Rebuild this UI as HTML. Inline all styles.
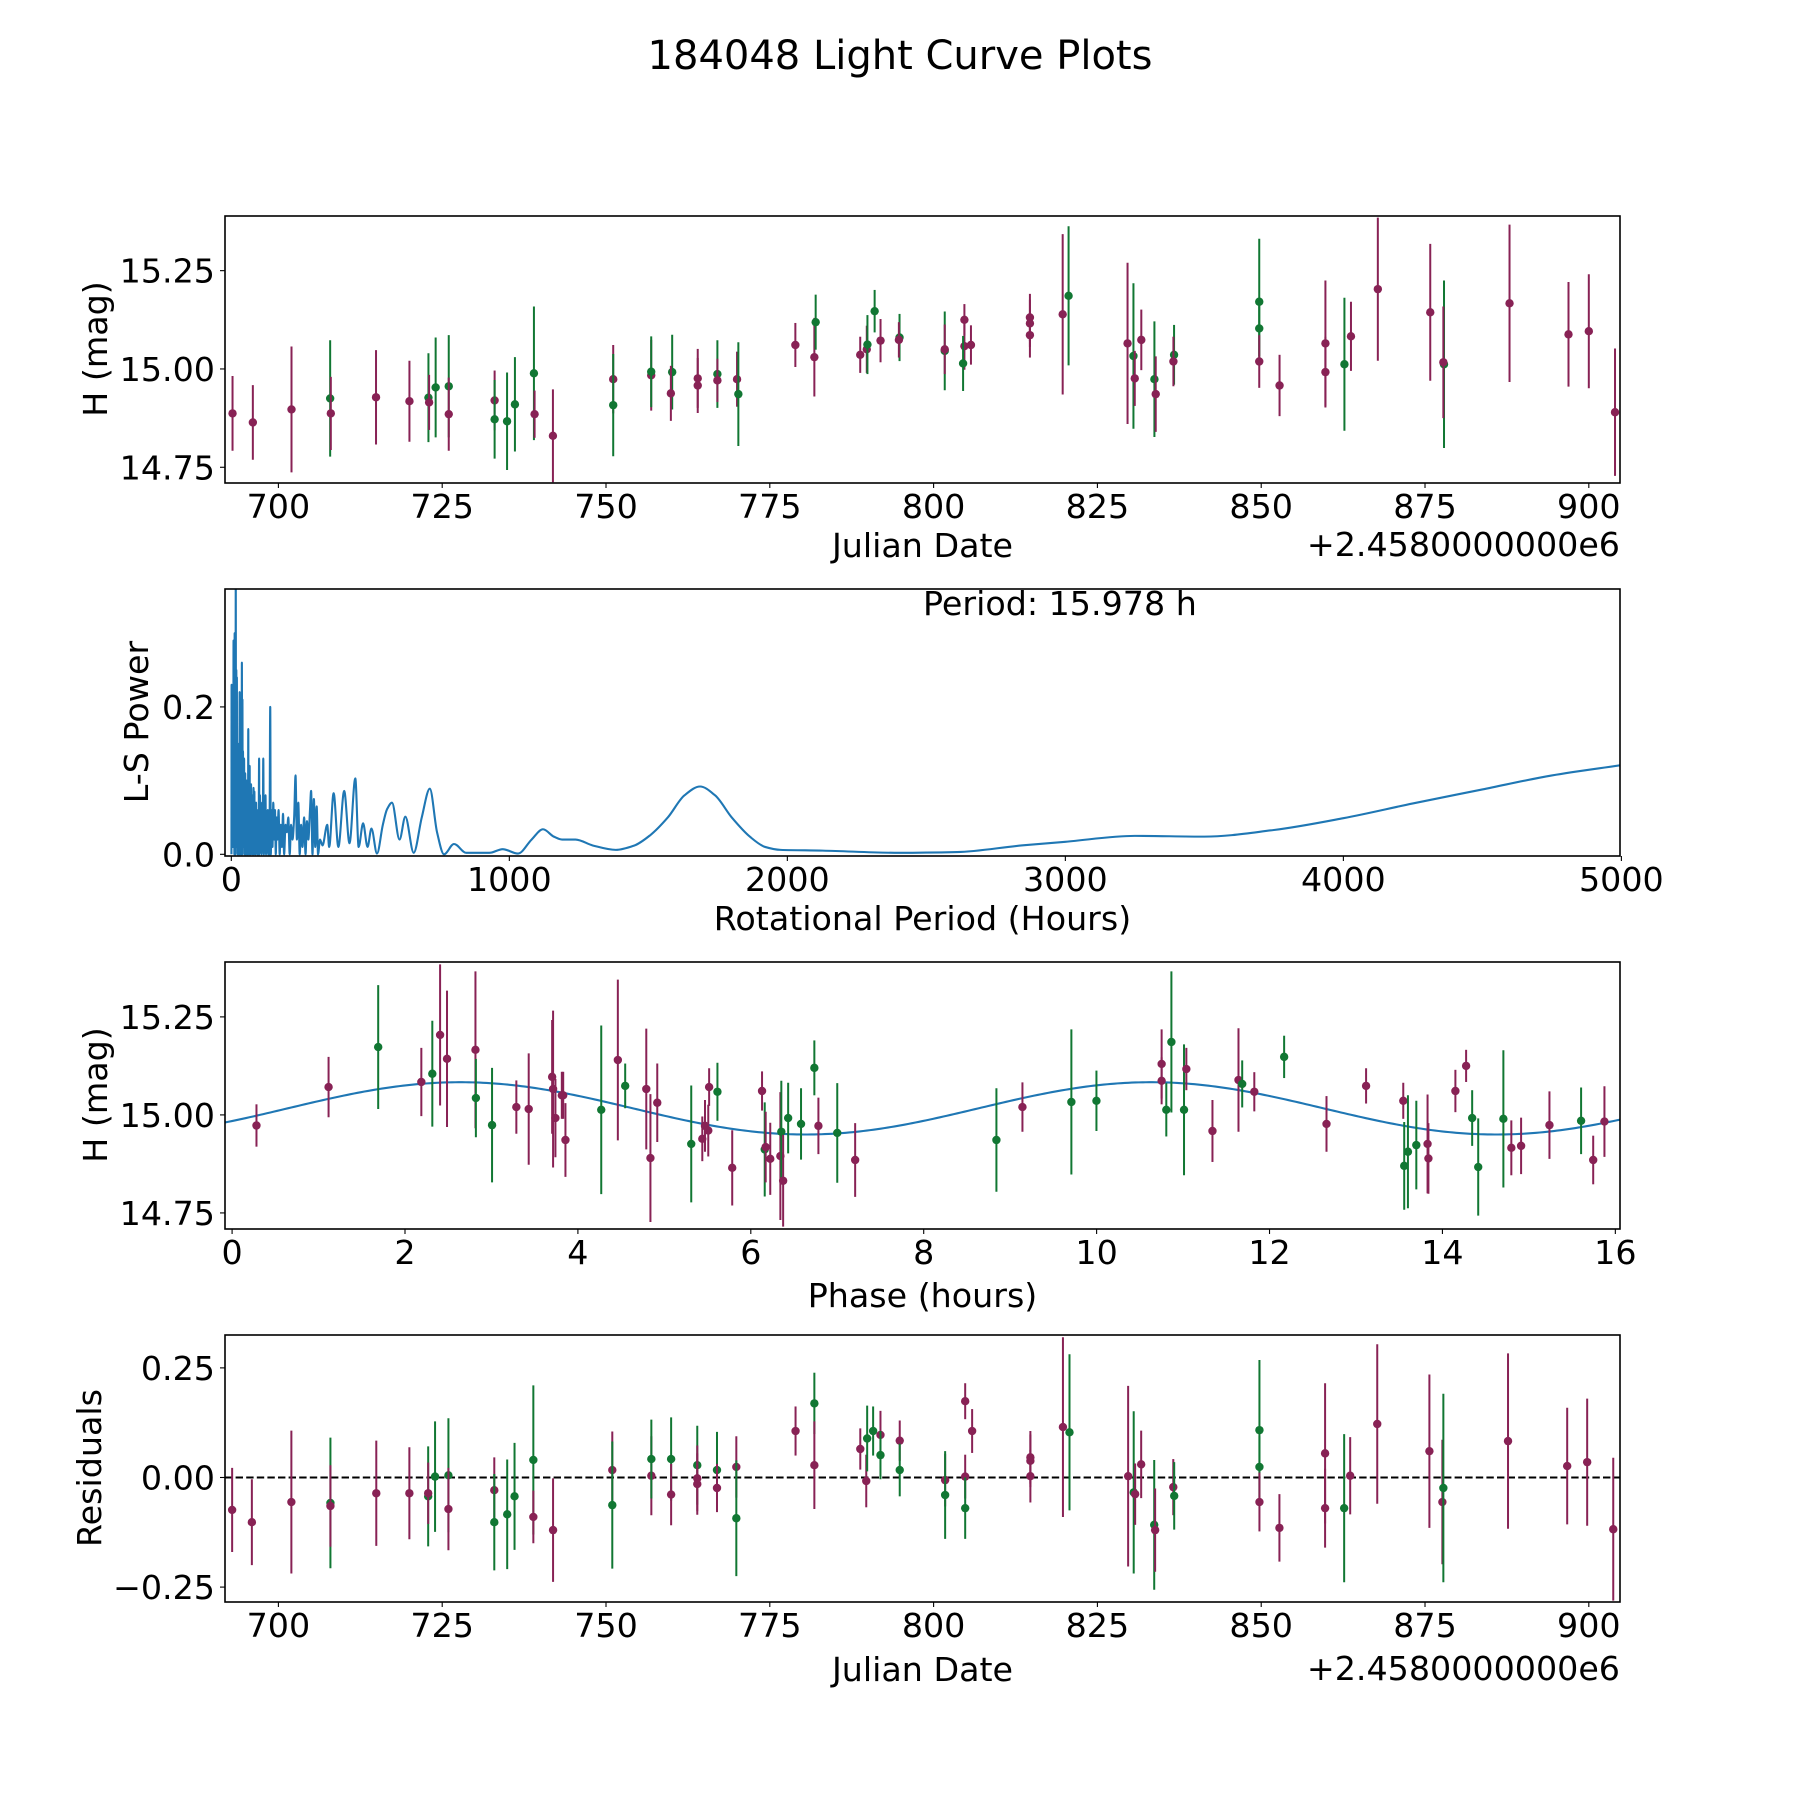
<!DOCTYPE html>
<html><head><meta charset="utf-8"><title>184048 Light Curve Plots</title>
<style>
html,body{margin:0;padding:0;background:#fff;}
svg{display:block;font-family:"DejaVu Sans","Liberation Sans",sans-serif;}
</style></head>
<body>
<svg id="fig" width="1800" height="1800" viewBox="0 0 1800 1800" xmlns="http://www.w3.org/2000/svg">
<rect x="0" y="0" width="1800" height="1800" fill="#fff"/>
<text x="900" y="69" font-size="40" text-anchor="middle" fill="#000">184048 Light Curve Plots</text>
</svg>
<script>
// ---------- data: top panel (H vs Julian Date) ----------
const topJd=[693.0,696.1,702.0,707.9,708.0,714.9,720.0,722.9,723.0,724.0,726.0,726.0,733.0,733.0,734.9,736.1,739.0,739.1,741.9,751.1,751.1,756.9,756.9,760.1,759.9,764.0,764.0,767.0,767.0,770.0,770.2,778.9,781.8,782.0,788.8,789.8,789.9,791.0,791.9,794.8,794.7,801.7,801.7,804.7,804.7,804.5,805.7,814.7,814.7,814.7,819.7,820.6,829.6,830.5,830.7,831.7,833.7,833.9,836.7,836.6,849.7,849.7,849.7,852.8,859.8,859.8,862.7,863.7,867.8,875.8,877.9,877.8,887.9,896.9,900.0,904.0];
const topMag=[14.887,14.864,14.897,14.925,14.887,14.928,14.918,14.927,14.915,14.953,14.956,14.885,14.92,14.872,14.867,14.91,14.989,14.885,14.83,14.974,14.908,14.984,14.993,14.992,14.938,14.976,14.958,14.987,14.971,14.974,14.936,15.061,15.03,15.119,15.036,15.05,15.062,15.147,15.072,15.08,15.074,15.046,15.05,15.125,15.058,15.014,15.061,15.131,15.116,15.086,15.139,15.186,15.065,15.033,14.976,15.074,14.974,14.936,15.036,15.019,15.171,15.103,15.019,14.958,15.065,14.992,15.012,15.083,15.203,15.144,15.012,15.017,15.167,15.088,15.096,14.89];
const topErr=[0.095,0.095,0.16,0.148,0.093,0.12,0.103,0.113,0.07,0.127,0.13,0.093,0.076,0.1,0.124,0.12,0.17,0.06,0.118,0.087,0.13,0.09,0.09,0.095,0.07,0.075,0.07,0.086,0.055,0.07,0.132,0.056,0.1,0.07,0.046,0.06,0.075,0.054,0.055,0.06,0.045,0.1,0.063,0.04,0.06,0.07,0.05,0.06,0.06,0.057,0.204,0.177,0.205,0.185,0.07,0.077,0.147,0.096,0.076,0.063,0.16,0.07,0.067,0.078,0.16,0.09,0.169,0.088,0.182,0.174,0.213,0.142,0.2,0.133,0.145,0.162];
const topBand=['M','M','M','G','M','M','M','G','M','G',
 'G','M','M','G','G','G','G','M','M','M',
 'G','M','G','G','M','M','M','G','M','M',
 'G','M','M','G','M','M','G','G','M','G',
 'M','G','M','M','M','G','M','M','M','M',
 'M','G','M','G','M','M','G','M','G','M',
 'G','G','M','M','M','M','G','M','M','M',
 'G','M','M','M','M','M'];

// ---------- data: periodogram ----------
const lsPeriod=[0.5,1,1.5,2.5,3.2,4,5,6,7,8,9,10,11,12,13,14,15,16,17,18,19,20,21,22,23,24,25,26,27,28,29,30,31,32,33,34,35,36,37,38,39,40,41,42,43,44,45,46,47,48,49,50,51,52,53,55,56,57,58,59,60,61,62,63,64,66,67,68,69,71,72,74,75,77,78,80,81,83,84,86,87,89,90,92,94,96,98,100,101,103,105,107,109,111,113,115,117,119,121,123,125,127,129,131,133,135,137,140,142,145,148,151,154,157,160,163,166,170,174,178,182,186,190,195,200,205,210,215,220,226,231,236,241,246,251,256,262,267,272,277,283,287,292,297,302,307,312,319,328,345,352,368,385,406,425,446,458,474,490,504,524,545,560,578,605,626,656,685,714,740,765,801,845,928,976,1031,1080,1121,1160,1190,1238,1300,1383,1450,1507,1570,1630,1686,1740,1800,1865,1920,1976,2127,2403,2610,2842,3000,3250,3500,3750,4000,4250,4500,4750,5000];
const lsPower=[0.0,0.23,0.02,0.21,0.01,0.19,0.03,0.12,0.01,0.29,0.02,0.25,0.0,0.3,0.05,0.22,0.0,0.38,0.02,0.25,0.01,0.24,0.03,0.14,0.0,0.15,0.02,0.1,0.0,0.14,0.02,0.22,0.0,0.18,0.03,0.09,0.0,0.12,0.04,0.26,0.0,0.21,0.02,0.14,0.01,0.1,0.02,0.13,0.0,0.08,0.03,0.11,0.0,0.09,0.02,0.1,0.0,0.09,0.02,0.06,0.0,0.17,0.03,0.08,0.0,0.12,0.02,0.09,0.0,0.095,0.01,0.08,0.0,0.07,0.02,0.09,0.0,0.085,0.01,0.05,0.0,0.07,0.02,0.05,0.0,0.06,0.0,0.13,0.0,0.08,0.01,0.05,0.0,0.07,0.02,0.13,0.0,0.07,0.03,0.08,0.0,0.05,0.02,0.06,0.0,0.05,0.0,0.2,0.0,0.06,0.01,0.07,0.02,0.06,0.0,0.05,0.02,0.06,0.0,0.04,0.01,0.055,0.0,0.04,0.03,0.05,0.0,0.04,0.02,0.05,0.107,0.02,0.07,0.0,0.04,0.01,0.05,0.0,0.045,0.02,0.06,0.086,0.0,0.075,0.01,0.065,0.0,0.02,0.012,0.04,0.01,0.083,0.01,0.086,0.015,0.103,0.01,0.042,0.01,0.035,0.001,0.04,0.061,0.07,0.02,0.051,0.002,0.05,0.089,0.03,0.0,0.014,0.002,0.002,0.007,0.001,0.02,0.034,0.024,0.02,0.02,0.012,0.006,0.012,0.026,0.05,0.08,0.092,0.08,0.05,0.024,0.01,0.006,0.005,0.002,0.003,0.012,0.017,0.025,0.024,0.033,0.049,0.069,0.088,0.107,0.121];

// ---------- data: phase-folded panel ----------
const phHours=[0.282,1.116,1.69,2.189,2.316,2.406,2.486,2.815,2.82,3.007,3.288,3.431,3.702,3.713,3.74,3.814,3.83,3.856,4.27,4.462,4.547,4.791,4.839,4.918,5.311,5.439,5.47,5.508,5.518,5.614,5.785,6.13,6.161,6.172,6.225,6.342,6.353,6.374,6.432,6.581,6.735,6.782,7.0,7.207,8.841,9.142,9.708,9.998,10.752,10.752,10.806,10.865,11.011,11.038,11.34,11.641,11.684,11.824,12.169,12.659,13.117,13.547,13.558,13.601,13.698,13.828,13.838,14.15,14.274,14.344,14.414,14.705,14.797,14.91,15.238,15.604,15.744,15.874];
const phMag=[14.973,15.071,15.173,15.084,15.105,15.204,15.143,15.166,15.043,14.974,15.02,15.015,15.097,15.066,14.992,15.05,15.05,14.936,15.013,15.14,15.074,15.066,14.89,15.031,14.926,14.939,14.972,14.96,15.071,15.059,14.865,15.061,14.912,14.918,14.888,14.895,14.957,14.832,14.992,14.977,15.12,14.972,14.954,14.885,14.936,15.02,15.033,15.036,15.13,15.087,15.013,15.186,15.013,15.117,14.959,15.089,15.079,15.059,15.148,14.977,15.074,15.036,14.87,14.906,14.923,14.926,14.889,15.061,15.125,14.992,14.867,14.99,14.916,14.921,14.974,14.985,14.885,14.983];
const phErr=[0.054,0.077,0.158,0.087,0.135,0.18,0.174,0.2,0.1,0.146,0.068,0.142,0.145,0.2,0.1,0.06,0.06,0.094,0.215,0.205,0.057,0.154,0.163,0.1,0.149,0.057,0.066,0.066,0.048,0.074,0.096,0.05,0.12,0.09,0.092,0.163,0.13,0.117,0.09,0.091,0.07,0.072,0.127,0.094,0.132,0.063,0.185,0.077,0.088,0.06,0.068,0.18,0.167,0.054,0.079,0.132,0.06,0.05,0.054,0.071,0.045,0.046,0.112,0.144,0.113,0.126,0.09,0.054,0.041,0.071,0.124,0.175,0.07,0.072,0.086,0.085,0.062,0.09];
const phBand=['M','M','G','M','G','M','M','M','G','G',
 'M','M','M','M','M','M','M','M','G','M',
 'G','M','M','M','G','M','M','M','M','G',
 'M','M','G','M','M','M','G','M','G','G',
 'G','M','G','M','G','M','G','G','M','M',
 'G','G','G','M','M','M','G','M','G','M',
 'M','M','G','G','G','M','M','M','M','G',
 'G','G','M','M','M','G','M','M'];
// fitted model (double-peaked sinusoid)
const fitMean=15.0167, fitAmp=0.0667, fitPeak=2.64, fitHalfPeriod=7.989;

// ---------- data: residual panel ----------
const resJd=[692.94,695.95,701.98,707.94,707.94,714.94,719.99,722.86,722.86,723.91,725.95,725.95,732.95,732.95,734.92,736.04,738.91,738.91,741.92,750.96,750.96,756.92,756.92,759.94,759.94,763.93,763.93,763.93,766.94,766.94,769.89,769.89,778.93,781.8,781.8,788.81,789.72,789.86,790.77,791.89,791.89,794.83,794.83,801.76,801.76,804.82,804.82,804.82,805.88,814.77,814.77,814.77,819.74,820.74,829.69,830.54,830.76,831.68,833.67,833.81,836.58,836.72,849.73,849.73,849.73,852.78,859.75,859.75,862.66,863.58,867.71,875.67,877.65,877.8,887.67,896.7,899.75,903.73];
const resVal=[-0.074,-0.102,-0.056,-0.058,-0.065,-0.036,-0.036,-0.043,-0.036,0.002,0.005,-0.072,-0.029,-0.102,-0.084,-0.043,0.04,-0.09,-0.12,0.017,-0.063,0.004,0.042,0.042,-0.039,0.028,-0.002,-0.015,0.017,-0.024,0.024,-0.093,0.106,0.169,0.028,0.065,-0.008,0.089,0.106,0.097,0.051,0.084,0.017,-0.006,-0.04,0.174,0.002,-0.07,0.106,0.046,0.038,0.003,0.115,0.103,0.003,-0.034,-0.038,0.03,-0.108,-0.12,-0.022,-0.042,0.108,0.024,-0.056,-0.115,0.055,-0.07,-0.07,0.004,0.122,0.06,-0.056,-0.024,0.083,0.026,0.035,-0.118];
const resErr=[0.096,0.098,0.163,0.149,0.093,0.12,0.105,0.114,0.07,0.126,0.13,0.094,0.075,0.11,0.125,0.122,0.17,0.06,0.118,0.088,0.145,0.09,0.09,0.095,0.07,0.09,0.075,0.07,0.087,0.055,0.07,0.132,0.056,0.07,0.1,0.047,0.06,0.075,0.056,0.055,0.055,0.046,0.06,0.06,0.1,0.041,0.05,0.07,0.05,0.06,0.06,0.06,0.205,0.178,0.206,0.185,0.07,0.077,0.148,0.095,0.064,0.077,0.16,0.07,0.067,0.077,0.16,0.09,0.169,0.088,0.182,0.175,0.142,0.215,0.2,0.133,0.145,0.163];
const resBand=['M','M','M','G','M','M','M','G','M','G',
 'G','M','M','G','G','G','G','M','M','M',
 'G','M','G','G','M','G','M','M','G','M',
 'M','G','M','G','M','M','M','G','G','M',
 'G','M','G','M','G','M','M','G','M','M',
 'M','M','M','G','M','G','M','M','G','M',
 'M','G','G','G','M','M','M','M','G','M',
 'M','M','M','G','M','M','M','M'];

const xTopTicks=[700,725,750,775,800,825,850,875,900];
const yTopTicks=[14.75,15.00,15.25];
const xLsTicks=[0,1000,2000,3000,4000,5000];
const yLsTicks=[0.0,0.2];
const xPhTicks=[0,2,4,6,8,10,12,14,16];
const yResTicks=[-0.25,0.00,0.25];

// ---------- rendering ----------
const NS='http://www.w3.org/2000/svg';
const svg=document.getElementById('fig');
const COL={M:'#882255',G:'#117733'};
const FS=33.3;
function mk(tag,attrs,parent){const e=document.createElementNS(NS,tag);for(const k in attrs)e.setAttribute(k,attrs[k]);(parent||svg).appendChild(e);return e;}
function scale(d0,d1,p0,p1){return v=>p0+(v-d0)/(d1-d0)*(p1-p0);}
// monotone cubic (Fritsch-Carlson) path through pixel points
function smoothPath(px,py){
  const n=px.length,d=[],m=new Array(n);
  for(let i=0;i<n-1;i++)d.push((py[i+1]-py[i])/(px[i+1]-px[i]||1e-6));
  m[0]=d[0];m[n-1]=d[n-2];
  for(let i=1;i<n-1;i++){m[i]=(d[i-1]*d[i]>0)?2/(1/d[i-1]+1/d[i]):0;}
  let s='M'+px[0].toFixed(2)+','+py[0].toFixed(2);
  for(let i=0;i<n-1;i++){const h=px[i+1]-px[i];
    s+='C'+(px[i]+h/3).toFixed(2)+','+(py[i]+m[i]*h/3).toFixed(2)+' '+(px[i+1]-h/3).toFixed(2)+','+(py[i+1]-m[i+1]*h/3).toFixed(2)+' '+px[i+1].toFixed(2)+','+py[i+1].toFixed(2);}
  return s;
}

const L=225,R=1620;
function makeAxes(id,top,bottom,xd,yd,name){
  const cp=mk('clipPath',{id:'clip'+id});
  mk('rect',{x:L,y:top,width:R-L,height:bottom-top},cp);
  const g=mk('g',{});
  
  
  const inner=mk('g',{'clip-path':'url(#clip'+id+')'},g);
  return {g,inner,x:scale(xd[0],xd[1],L,R),y:scale(yd[0],yd[1],bottom,top),top,bottom};
}
function frame(ax){
  const f=mk('rect',{x:L,y:ax.top,width:R-L,height:ax.bottom-ax.top,fill:'none',stroke:'#000','stroke-width':1.6},ax.g);
  
  
}
function xticks(ax,ticks,fmt,nm){
  ticks.forEach(t=>{const px=ax.x(t);
    const l=mk('line',{x1:px,x2:px,y1:ax.bottom,y2:ax.bottom+5,stroke:'#000','stroke-width':1.1},ax.g);
    
    
    const tx=mk('text',{x:px,y:ax.bottom+35,'font-size':FS,'text-anchor':'middle'},ax.g);tx.textContent=fmt(t);
    
    });
}
function yticks(ax,ticks,fmt,nm){
  ticks.forEach(t=>{const py=ax.y(t);
    const l=mk('line',{x1:L-5,x2:L,y1:py,y2:py,stroke:'#000','stroke-width':1.1},ax.g);
    
    
    const tx=mk('text',{x:215,y:py+12,'font-size':FS,'text-anchor':'end'},ax.g);tx.textContent=fmt(t);
    
    });
}
function label(txt,x,y,rot,nm,anchor){
  const t=mk('text',{x:x,y:y,'font-size':FS,'text-anchor':anchor||'middle',transform:rot?`rotate(-90 ${x} ${y})`:''});
  t.textContent=txt;
  
  
}
function errpoints(ax,xs,ys,es,bands,nm){
  xs.forEach((xv,i)=>{const c=COL[bands[i]]||COL.M;const px=ax.x(xv);
    const b=mk('line',{x1:px,x2:px,y1:ax.y(ys[i]-es[i]),y2:ax.y(ys[i]+es[i]),stroke:c,'stroke-width':2},ax.inner);
    
    
    const d=mk('ellipse',{cx:px,cy:ax.y(ys[i]),rx:4.2,ry:4.2,fill:c},ax.inner);
    
    });
}
const f2=v=>v.toFixed(2);

// Panel 1
const a1=makeAxes(1,216,483,[691.85,904.76],[14.71,15.389],'lightcurve-axes');
errpoints(a1,topJd,topMag,topErr,topBand,'lightcurve');
frame(a1);xticks(a1,xTopTicks,String,'x-axis');yticks(a1,yTopTicks,f2,'y-axis');
label('Julian Date',922.5,557,false,'x-axis-title');
label('+2.4580000000e6',1620,556,false,'x-axis-offset','end');
label('H (mag)',107,349,true,'y-axis-title');

// Panel 2
const a2=makeAxes(2,589,856,[-22.7,4995],[-0.0023,0.36],'periodogram-axes');
const lsPx=lsPeriod.map(p=>a2.x(p)), lsPy=lsPower.map(v=>a2.y(v));
const lsLine=mk('path',{d:smoothPath(lsPx,lsPy),fill:'none',stroke:'#1f77b4','stroke-width':2.1,'stroke-linejoin':'round'},a2.inner);


frame(a2);xticks(a2,xLsTicks,String,'x-axis');yticks(a2,yLsTicks,v=>v.toFixed(1),'y-axis');
label('Rotational Period (Hours)',922.5,930,false,'x-axis-title');
label('L-S Power',148,722,true,'y-axis-title');
label('Period: 15.978 h',923,615,false,'period-annotation','start');

// Panel 3
const a3=makeAxes(3,962,1229,[-0.082,16.054],[14.709,15.39],'phase-axes');
let fitD='';
for(let i=0;i<=400;i++){const ph=-0.082+i*(16.054+0.082)/400;
  const m=fitMean+fitAmp*Math.cos(2*Math.PI*(ph-fitPeak)/fitHalfPeriod);
  fitD+=(i?'L':'M')+a3.x(ph).toFixed(2)+','+a3.y(m).toFixed(2);}
const fit=mk('path',{d:fitD,fill:'none',stroke:'#1f77b4','stroke-width':2.1},a3.inner);


errpoints(a3,phHours,phMag,phErr,phBand,'phase');
frame(a3);xticks(a3,xPhTicks,String,'x-axis');yticks(a3,yTopTicks,f2,'y-axis');
label('Phase (hours)',922.5,1307,false,'x-axis-title');
label('H (mag)',107,1095,true,'y-axis-title');

// Panel 4
const a4=makeAxes(4,1335,1602,[691.85,904.76],[-0.284,0.325],'residuals-axes');
const zl=mk('line',{x1:L,x2:R,y1:a4.y(0),y2:a4.y(0),stroke:'#000','stroke-width':2,'stroke-dasharray':'7.4,3.2'},a4.inner);


errpoints(a4,resJd,resVal,resErr,resBand,'residual');
frame(a4);xticks(a4,xTopTicks,String,'x-axis');yticks(a4,yResTicks,v=>(v<0?'\u2212':'')+Math.abs(v).toFixed(2),'y-axis');
label('Julian Date',922.5,1681,false,'x-axis-title');
label('+2.4580000000e6',1620,1680,false,'x-axis-offset','end');
label('Residuals',101,1468,true,'y-axis-title');
</script>
</body></html>
